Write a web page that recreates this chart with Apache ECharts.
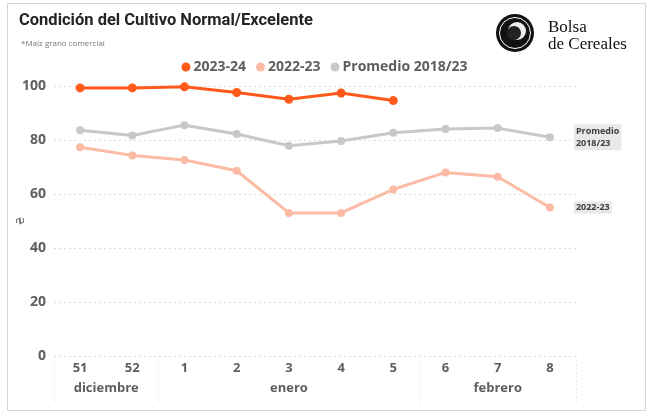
<!DOCTYPE html>
<html>
<head>
<meta charset="utf-8">
<script src="https://cdn.jsdelivr.net/npm/echarts@6/dist/echarts.min.js"></script>
<style>html,body{margin:0;padding:0;background:#fff}#c{width:649px;height:416px}</style>
</head>
<body>
<div id="c"></div>
<script>
const weeks = ['51','52','1','2','3','4','5','6','7','8'];
const monthOfWeek = ['diciembre','diciembre','enero','enero','enero','enero','enero','febrero','febrero','febrero'];
const s2023_24 = [99.3, 99.3, 99.7, 97.6, 95.1, 97.4, 94.6, null, null, null];
const s2022_23 = [77.3, 74.3, 72.6, 68.6, 53.0, 53.0, 61.7, 68.0, 66.4, 55.0];
const promedio = [83.6, 81.7, 85.5, 82.2, 77.9, 79.6, 82.7, 84.1, 84.4, 81.0];
const yTicks = [0, 20, 40, 60, 80, 100];

// month groups derived from the week->month list
const groups = [];
monthOfWeek.forEach((m, i) => {
  const g = groups[groups.length - 1];
  if (g && g.name === m) g.end = i; else groups.push({name: m, start: i, end: i});
});
const monthCenters = groups.map(g => (g.start + g.end) / 2);
const monthBounds = [-0.5].concat(groups.map(g => g.end + 0.5));

const FONT = '"Open Sans", "Noto Sans", sans-serif';
const TXT = '#605E5C';

const chart = echarts.init(document.getElementById('c'), null, {renderer: 'canvas'});
chart.setOption({
  animation: false,
  backgroundColor: '#fff',
  title: [{
    text: 'Condición del Cultivo Normal/Excelente',
    left: 14, top: 7,
    textStyle: {fontFamily: '"Roboto", sans-serif', fontWeight: 'bold', fontSize: 16.5, color: '#252423'}
  }, {
    text: '*Maíz grano comercial',
    left: 16, top: 35,
    textStyle: {fontFamily: FONT, fontWeight: 'normal', fontSize: 8, color: '#777'}
  }],
  legend: {
    top: 55, left: 'center',
    icon: 'circle', itemWidth: 9, itemHeight: 9, itemGap: 10,
    textStyle: {fontFamily: FONT, fontWeight: 'bold', fontSize: 14, color: TXT, padding: [0,0,0,-2]},
    data: ['2023-24', '2022-23', 'Promedio 2018/23']
  },
  grid: {left: 54, right: 73, top: 86, bottom: 60, outerBoundsMode: 'none', containLabel: false},
  xAxis: [{
    type: 'category', data: weeks, boundaryGap: true,
    axisLine: {show: false}, axisTick: {show: false},
    axisLabel: {fontFamily: FONT, fontWeight: 'bold', fontSize: 13, color: TXT, margin: 6, interval: 0},
    splitLine: {show: false}
  }, {
    type: 'value', min: -0.5, max: weeks.length - 0.5, position: 'bottom',
    axisLine: {show: false},
    axisTick: {show: true, customValues: monthBounds, length: 48, inside: false,
      lineStyle: {color: '#EBEBEB', type: [2, 2], width: 1}},
    axisLabel: {show: true, customValues: monthCenters, margin: 26,
      fontFamily: FONT, fontWeight: 'bold', fontSize: 13, color: TXT,
      formatter: v => { const i = monthCenters.indexOf(v); return i >= 0 ? groups[i].name : ''; }},
    splitLine: {show: false}
  }],
  yAxis: {
    type: 'value', min: yTicks[0], max: yTicks[yTicks.length - 1], interval: 20,
    name: '₴', nameLocation: 'middle', nameGap: 28, nameRotate: 90, nameMoveOverlap: false,
    nameTextStyle: {fontFamily: '"DejaVu Sans", sans-serif', fontSize: 10, color: TXT},
    axisLine: {show: false}, axisTick: {show: false},
    axisLabel: {fontFamily: FONT, fontWeight: 'bold', fontSize: 14, color: TXT, margin: 8},
    splitLine: {show: true, lineStyle: {color: '#DCDCDC', type: [2, 3], width: 1}}
  },
  series: [{
    name: 'Promedio 2018/23', type: 'line', data: promedio,
    symbol: 'circle', symbolSize: 8,
    lineStyle: {color: '#C8C8C8', width: 3}, itemStyle: {color: '#C8C8C8'},
    endLabel: {show: true, distance: 24, formatter: 'Promedio\n2018/23', align: 'left',
      fontFamily: FONT, fontWeight: 'bold', fontSize: 9, color: '#404040', lineHeight: 12,
      backgroundColor: '#E8E8E8', padding: [1, 2, 1, 2]}
  }, {
    name: '2022-23', type: 'line', data: s2022_23,
    symbol: 'circle', symbolSize: 8,
    lineStyle: {color: '#FCBBA4', width: 3}, itemStyle: {color: '#FCBBA4'},
    endLabel: {show: true, distance: 24, formatter: '2022-23',
      fontFamily: FONT, fontWeight: 'bold', fontSize: 9, color: '#404040',
      backgroundColor: '#E8E8E8', padding: [2, 2, 1, 2]}
  }, {
    name: '2023-24', type: 'line', data: s2023_24,
    symbol: 'circle', symbolSize: 9,
    lineStyle: {color: '#FF5A1C', width: 3}, itemStyle: {color: '#FF5A1C'}
  }],
  graphic: [{
    type: 'rect', shape: {x: 7.5, y: 3.5, width: 638, height: 407},
    style: {fill: 'none', stroke: '#D4D4D4', lineWidth: 1}, silent: true, z: -1
  }, {
    type: 'circle', shape: {cx: 515, cy: 33, r: 19}, style: {fill: '#111'}
  }, {
    type: 'circle', shape: {cx: 515, cy: 33, r: 15.5}, style: {fill: 'none', stroke: '#fff', lineWidth: 1}
  }, {
    type: 'circle', shape: {cx: 517, cy: 31, r: 9}, style: {fill: '#eee'}
  }, {
    type: 'circle', shape: {cx: 514, cy: 33, r: 7}, style: {fill: '#222'}
  }, {
    type: 'text', left: 548, top: 19,
    style: {text: 'Bolsa', font: '17px "Liberation Serif", "DejaVu Serif", serif', fill: '#111'}
  }, {
    type: 'text', left: 548, top: 36,
    style: {text: 'de Cereales', font: '17px "Liberation Serif", "DejaVu Serif", serif', fill: '#111'}
  }]
});
</script>
</body>
</html>
